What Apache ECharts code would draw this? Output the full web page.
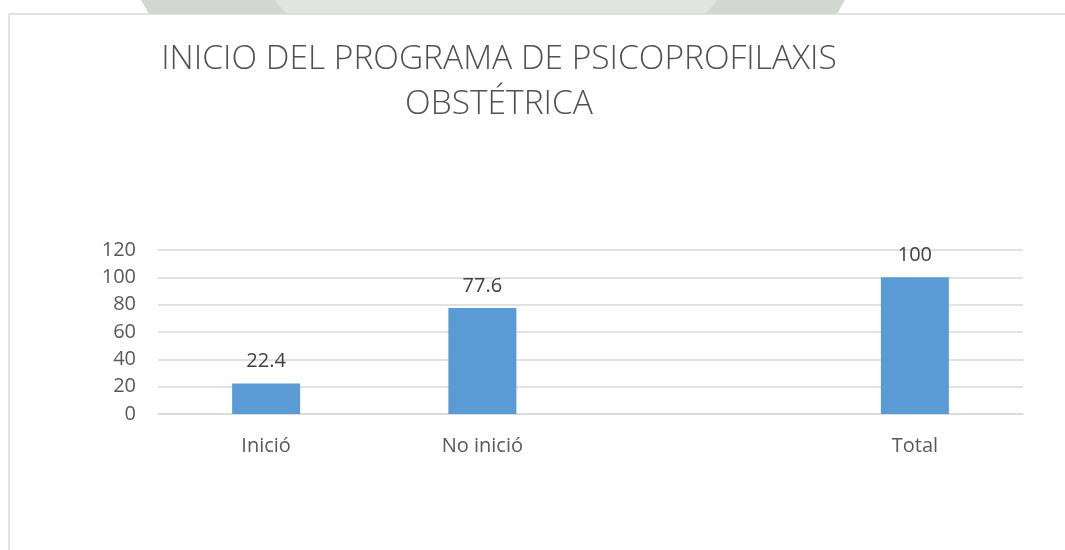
<!DOCTYPE html>
<html><head><meta charset="utf-8">
<script src="https://cdn.jsdelivr.net/npm/echarts@6/dist/echarts.min.js"></script>
<style>html,body{margin:0;padding:0;background:#fff}#c{width:1065px;height:550px}</style>
</head><body><div id="c"></div>
<script>
const categories = ['Inició', 'No inició', '', 'Total'];
const values = [22.4, 77.6, null, 100];
const yTicks = { min: 0, max: 120, interval: 20 };
const titleText = 'INICIO DEL PROGRAMA DE PSICOPROFILAXIS\nOBSTÉTRICA';

const chart = echarts.init(document.getElementById('c'), null, { renderer: 'canvas' });
chart.setOption({
  backgroundColor: '#fff',
  animation: false,
  graphic: {
    elements: [
      { type: 'circle', z: -10, shape: { cx: 493, cy: -190, r: 400 }, style: { fill: '#d2d8cf' } },
      { type: 'circle', z: -10, shape: { cx: 496, cy: -190, r: 292 }, style: { fill: '#e1e5de' } },
      { type: 'rect', z: -10, shape: { x: 9, y: 14, width: 1070, height: 560 }, style: { fill: '#fff', stroke: '#d9d9d9', lineWidth: 1.5 } }
    ]
  },
  title: {
    text: titleText,
    left: 494, top: 32, textAlign: 'center',
    textStyle: { fontFamily: 'Open Sans', fontWeight: 300, fontSize: 33.5, color: '#505050', lineHeight: 45 }
  },
  grid: { left: 158, right: 42, top: 250, bottom: 136, containLabel: false },
  xAxis: {
    type: 'category', data: categories,
    axisLine: { lineStyle: { color: '#d9d9d9', width: 1.5 } },
    axisTick: { show: false },
    axisLabel: { fontFamily: 'Open Sans', fontSize: 20, color: '#595959', margin: 22 }
  },
  yAxis: {
    type: 'value', min: yTicks.min, max: yTicks.max, interval: yTicks.interval,
    axisLine: { show: false }, axisTick: { show: false },
    splitLine: { lineStyle: { color: '#d9d9d9', width: 1.5 } },
    axisLabel: { fontFamily: 'Open Sans', fontSize: 20, color: '#595959', margin: 22 }
  },
  series: [{
    type: 'bar', data: values, barWidth: 68,
    itemStyle: { color: '#5b9bd5' },
    label: { show: true, position: 'top', distance: 12, fontFamily: 'Open Sans', fontSize: 20, color: '#404040' }
  }]
});
</script></body></html>
